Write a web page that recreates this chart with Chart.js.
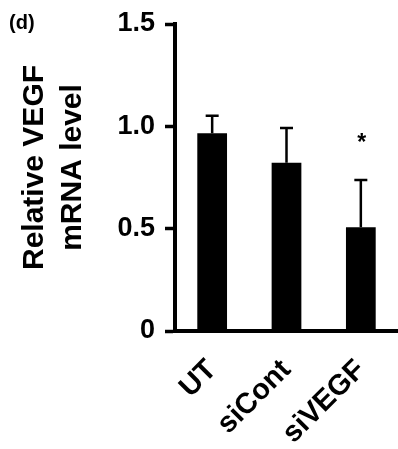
<!DOCTYPE html>
<html><head><meta charset="utf-8">
<script src="https://cdn.jsdelivr.net/npm/chart.js@4.4.0/dist/chart.umd.min.js"></script>
<style>html,body{margin:0;padding:0;background:#fff;} canvas{display:block;}</style>
</head><body>
<canvas id="c" width="398" height="449"></canvas>
<script>
const categories = ['UT', 'siCont', 'siVEGF'];
const meanValues = [0.966, 0.822, 0.507];
const errorValues = [0.086, 0.170, 0.231];
const significance = ['', '', '*'];
const yTickValues = [0, 0.5, 1.0, 1.5];
const yTickLabels = ['0', '0.5', '1.0', '1.5'];
const yAxisTitle = ['Relative VEGF', 'mRNA level'];
const panelLabel = '(d)';

const SANS = '"Liberation Sans", Arial, Helvetica, sans-serif';

const errorBarPlugin = {
  id: 'errorBars',
  afterDatasetsDraw(chart) {
    const ctx = chart.ctx;
    const meta = chart.getDatasetMeta(0);
    const y = chart.scales.y;
    ctx.save();
    ctx.strokeStyle = '#000';
    ctx.lineWidth = 2.5;
    meta.data.forEach((bar, i) => {
      const x = bar.x;
      const yTop = y.getPixelForValue(meanValues[i] + errorValues[i]);
      const yBase = y.getPixelForValue(meanValues[i]);
      ctx.beginPath();
      ctx.moveTo(x, yBase);
      ctx.lineTo(x, yTop);
      ctx.moveTo(x - 6.5, yTop);
      ctx.lineTo(x + 6.5, yTop);
      ctx.stroke();
      if (significance[i]) {
        ctx.font = 'bold 23px ' + SANS;
        ctx.textAlign = 'center';
        ctx.textBaseline = 'alphabetic';
        const m = ctx.measureText(significance[i]);
        const glyphMid = (m.actualBoundingBoxAscent - m.actualBoundingBoxDescent) / 2;
        const cy = yTop - 42.5;
        ctx.fillStyle = '#000';
        ctx.fillText(significance[i], x + 1, cy + glyphMid);
      }
    });
    ctx.restore();
  }
};

const panelPlugin = {
  id: 'panelLabel',
  afterDraw(chart) {
    const ctx = chart.ctx;
    ctx.save();
    ctx.font = 'bold 20px ' + SANS;
    ctx.fillStyle = '#000';
    ctx.textAlign = 'left';
    ctx.textBaseline = 'alphabetic';
    ctx.fillText(panelLabel, 9, 29);
    ctx.restore();
  }
};

new Chart(document.getElementById('c'), {
  type: 'bar',
  data: {
    labels: categories,
    datasets: [{
      data: meanValues,
      backgroundColor: '#000',
      borderWidth: 0,
      barPercentage: 0.4,
      categoryPercentage: 1.0
    }]
  },
  options: {
    responsive: false,
    animation: false,
    layout: { padding: { left: 0, right: 0, top: 24, bottom: 0 } },
    plugins: { legend: { display: false }, tooltip: { enabled: false } },
    scales: {
      x: {
        grid: { display: false, drawTicks: false },
        border: { display: true, color: '#000', width: 4 },
        ticks: {
          color: '#000',
          font: { family: SANS, size: 29, weight: 'bold' },
          minRotation: 45, maxRotation: 45,
          padding: 22
        },
        afterFit(s) { s.height = 118; s.paddingRight = 0; s.paddingLeft = 0; }
      },
      y: {
        min: 0, max: 1.5,
        afterBuildTicks(s) { s.ticks = yTickValues.map(v => ({ value: v })); },
        ticks: {
          color: '#000',
          font: { family: SANS, size: 27, weight: 'bold' },
          padding: 10,
          callback: (v) => {
            const i = yTickValues.findIndex(t => Math.abs(t - v) < 1e-9);
            return i >= 0 ? yTickLabels[i] : '';
          }
        },
        grid: { display: true, drawOnChartArea: false, drawTicks: true, tickLength: 10, tickWidth: 3.5, tickColor: '#000', color: '#000' },
        border: { display: true, color: '#000', width: 4 },
        title: {
          display: true,
          text: yAxisTitle,
          color: '#000',
          font: { family: SANS, size: 30, weight: 'bold', lineHeight: 1.25 },
          padding: { top: 16, bottom: 0 }
        },
        afterFit(s) {
          s.width = 175;
          s.paddingTop = 0;
          s.paddingBottom = 0;
          if (!s._titleShifted) {
            const orig = s.drawTitle;
            s.drawTitle = function () {
              const ctx = this.ctx;
              ctx.save();
              ctx.translate(0, -10);
              orig.apply(this, arguments);
              ctx.restore();
            };
            s._titleShifted = true;
          }
        }
      }
    }
  },
  plugins: [errorBarPlugin, panelPlugin]
});
</script>
</body></html>
